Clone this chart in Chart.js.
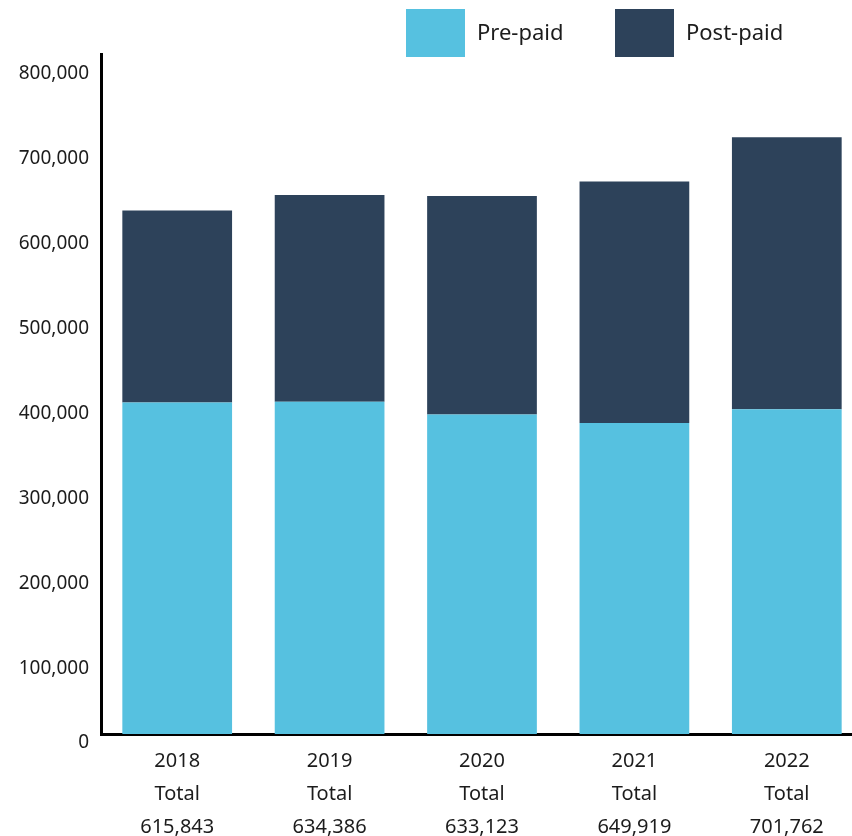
<!DOCTYPE html>
<html>
<head>
<meta charset="utf-8">
<script src="https://cdn.jsdelivr.net/npm/chart.js@4"></script>
<style>
  html, body { margin: 0; padding: 0; background: #fff; overflow: hidden; }
  #wrap { width: 852px; height: 836px; overflow: hidden; }
</style>
</head>
<body>
<div id="wrap">
  <canvas id="chart" width="863" height="836"></canvas>
</div>
<script>
const years = ["2018", "2019", "2020", "2021", "2022"];
const totalLabels = ["615,843", "634,386", "633,123", "649,919", "701,762"];
const prePaid = [390000, 391000, 376000, 366000, 382000];
const postPaid = [226000, 243000, 257000, 284000, 320000];
const yTicks = [0, 100000, 200000, 300000, 400000, 500000, 600000, 700000, 800000];

const fontFamily = "'Noto Sans', 'Open Sans', sans-serif";
const textColor = "#1c1c1c";

// legend drawn by hand so it sits where the original has it
const legendPlugin = {
  id: "sideLegend",
  afterDraw(chart) {
    const ctx = chart.ctx;
    const spots = [
      { box: 406, text: 477 },
      { box: 615, text: 686 }
    ];
    ctx.save();
    ctx.font = "22px " + fontFamily;
    ctx.textBaseline = "middle";
    ctx.textAlign = "left";
    chart.data.datasets.forEach((ds, i) => {
      const s = spots[i];
      ctx.fillStyle = ds.backgroundColor;
      ctx.fillRect(s.box, 9, 59, 48);
      ctx.fillStyle = textColor;
      ctx.fillText(ds.label, s.text, 34);
    });
    ctx.restore();
  }
};

new Chart(document.getElementById("chart"), {
  type: "bar",
  data: {
    labels: years,
    datasets: [
      { label: "Pre-paid", data: prePaid, backgroundColor: "#56C1E0" },
      { label: "Post-paid", data: postPaid, backgroundColor: "#2D425A" }
    ]
  },
  options: {
    responsive: false,
    animation: false,
    layout: { padding: { top: 54, left: 0, right: 0, bottom: 0 } },
    datasets: { bar: { categoryPercentage: 1, barPercentage: 0.72 } },
    plugins: {
      legend: { display: false },
      tooltip: { enabled: false }
    },
    scales: {
      x: {
        stacked: true,
        grid: { display: false, drawTicks: false },
        border: { display: true, color: "#000", width: 3 },
        afterFit(scale) { scale.height = 102; },
        ticks: {
          padding: 11,
          color: textColor,
          font: { family: fontFamily, size: 20, lineHeight: 1.65 },
          maxRotation: 0,
          autoSkip: false,
          callback: (v, i) => [years[i], "Total", totalLabels[i]]
        }
      },
      y: {
        stacked: true,
        min: 0,
        max: 800000,
        afterFit(scale) { scale.width = 101; },
        afterBuildTicks(scale) { scale.ticks = yTicks.map(v => ({ value: v })); },
        grid: { display: false, drawTicks: false },
        border: { display: true, color: "#000", width: 3 },
        ticks: {
          padding: 12,
          labelOffset: 20,
          color: textColor,
          font: { family: fontFamily, size: 19 },
          callback: v => v === 0 ? ["0", ""] : Number(v).toLocaleString("en-US")
        }
      }
    }
  },
  plugins: [legendPlugin]
});
</script>
</body>
</html>
